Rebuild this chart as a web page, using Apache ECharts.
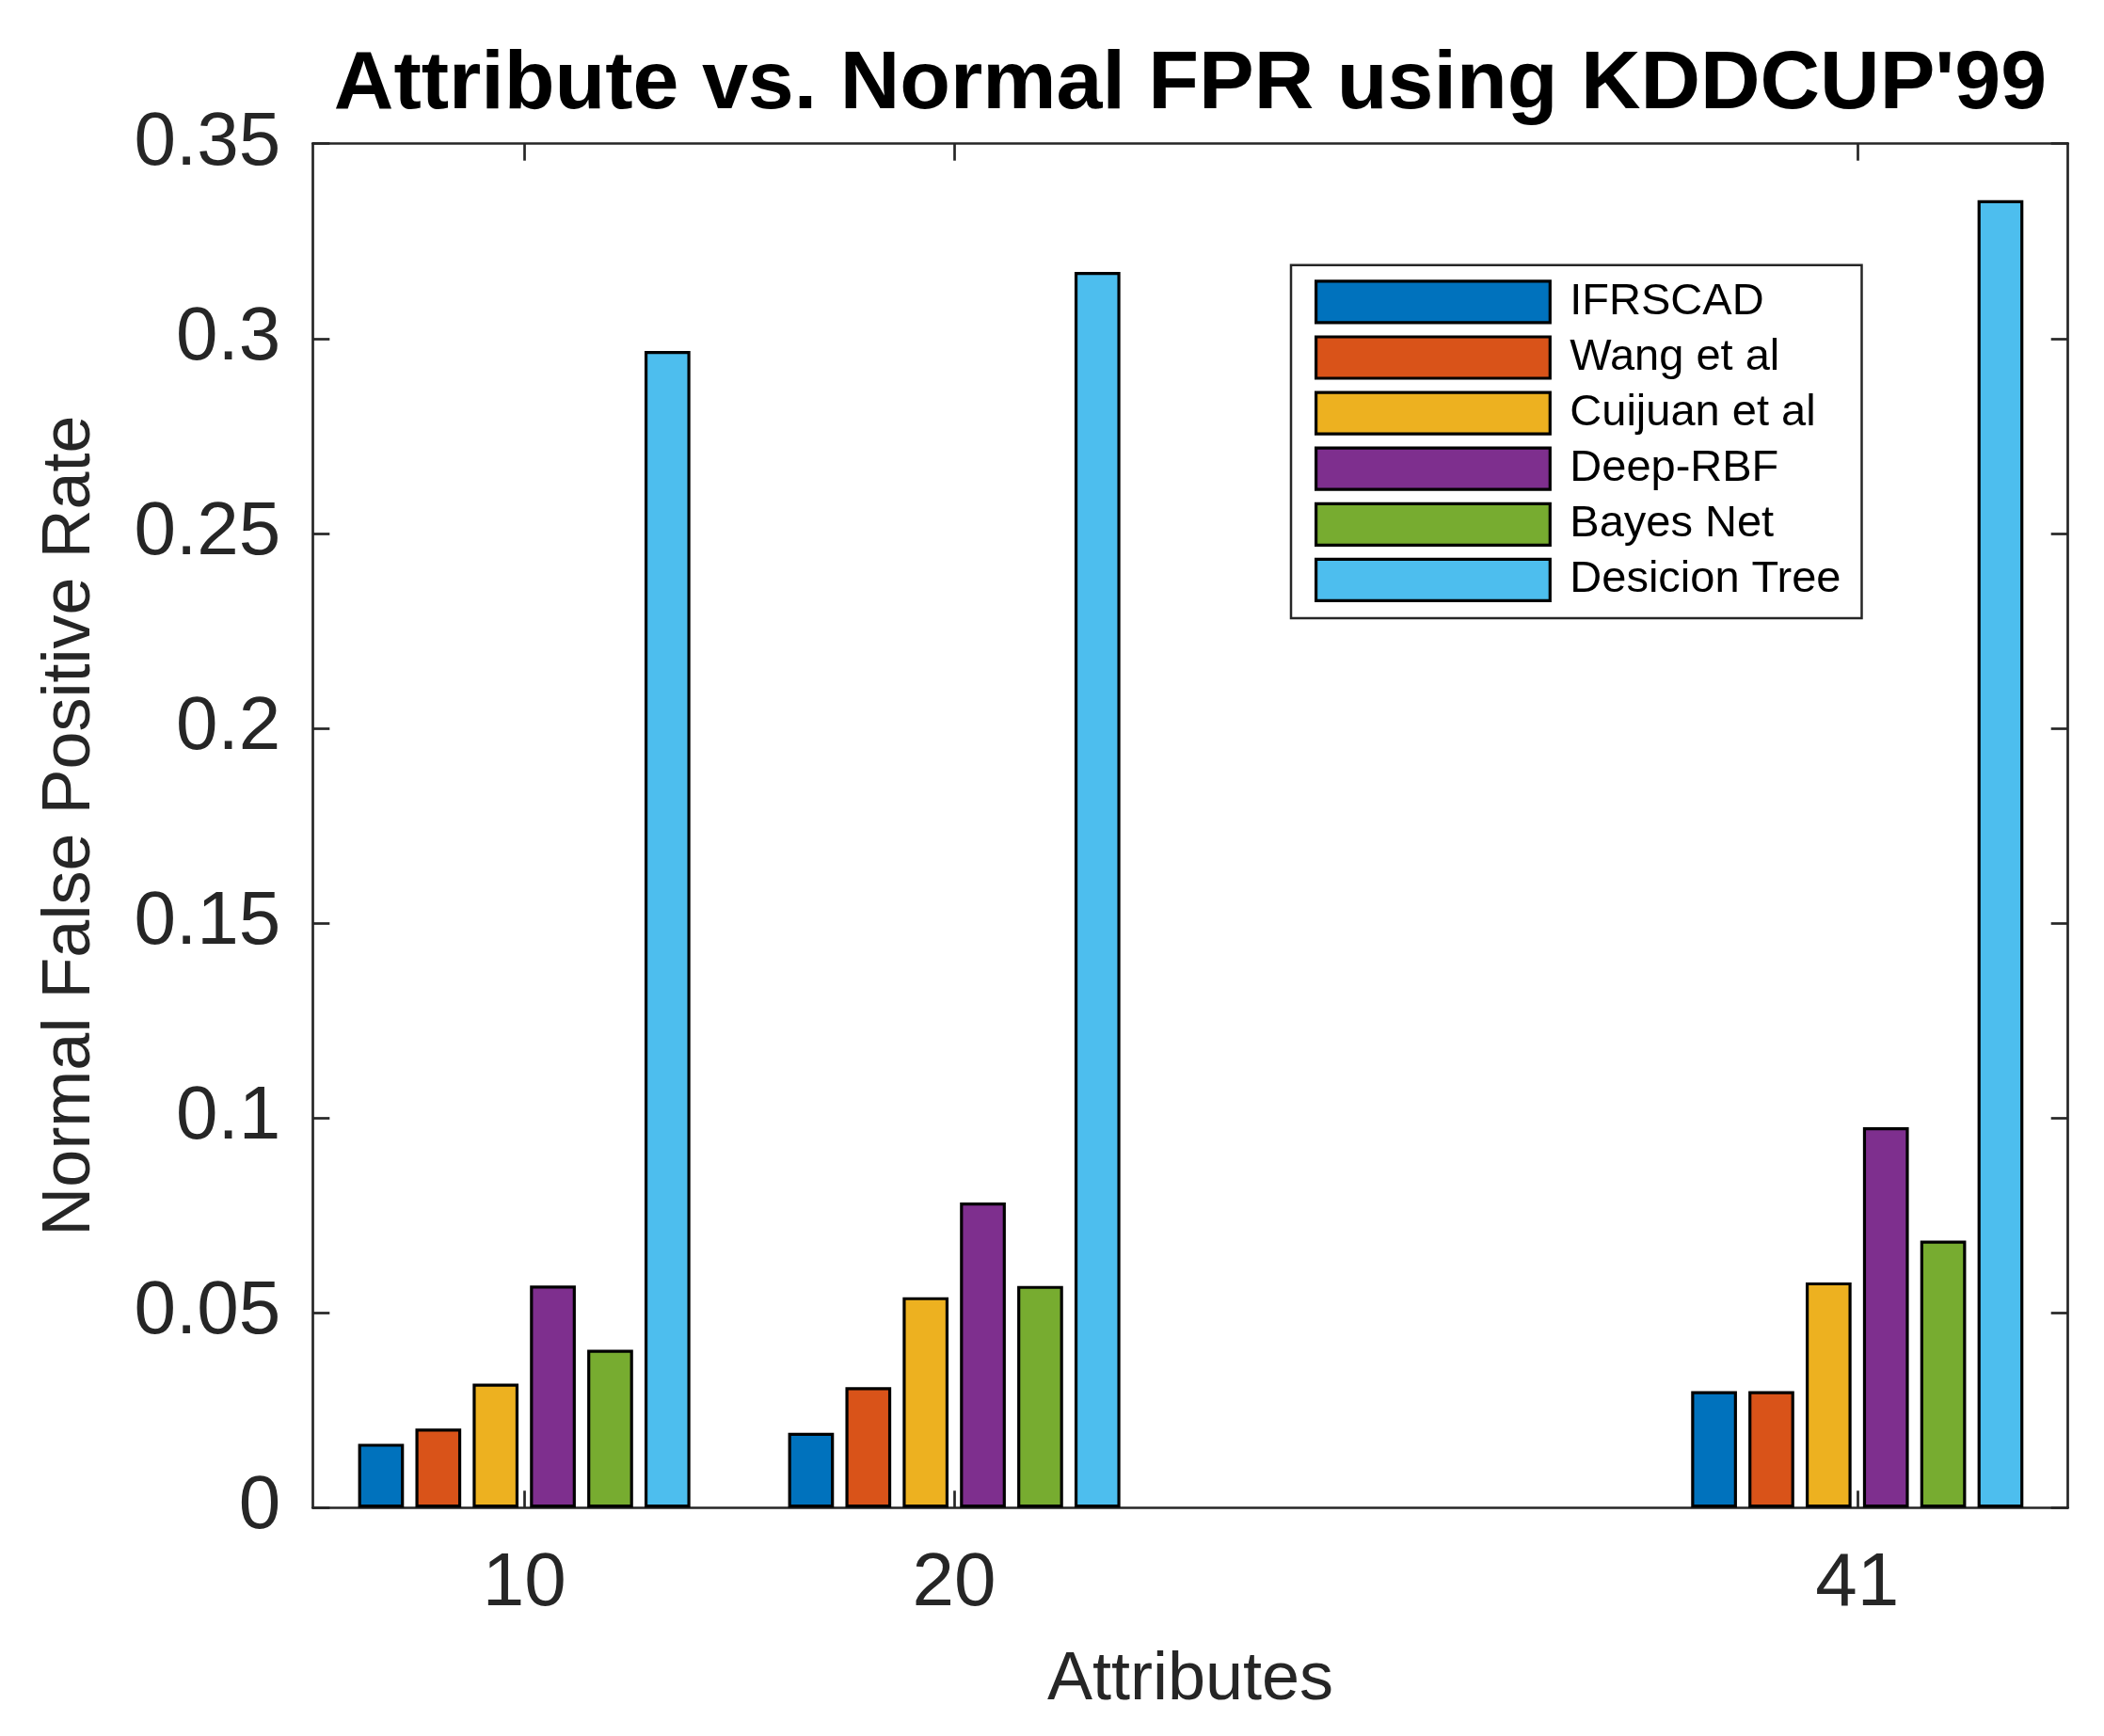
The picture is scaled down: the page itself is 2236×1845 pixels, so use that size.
<!DOCTYPE html>
<html>
<head>
<meta charset="utf-8">
<script src="https://cdn.jsdelivr.net/npm/echarts@6/dist/echarts.min.js"></script>
<style>
html,body{margin:0;padding:0;background:#ffffff;}
#chart{width:2236px;height:1845px;}
</style>
</head>
<body>
<div id="chart"></div>
<script>
// ---- data ----
const attributes = [10, 20, 41];
const seriesNames = ['IFRSCAD', 'Wang et al', 'Cuijuan et al', 'Deep-RBF', 'Bayes Net', 'Desicion Tree'];
const ifrscad = [0.0164, 0.0192, 0.0299];
const wangEtAl = [0.0203, 0.0309, 0.0299];
const cuijuanEtAl = [0.0318, 0.0540, 0.0578];
const deepRBF = [0.0570, 0.0783, 0.0976];
const bayesNet = [0.0405, 0.0569, 0.0685];
const desicionTree = [0.2968, 0.3171, 0.3355];
const seriesValues = [ifrscad, wangEtAl, cuijuanEtAl, deepRBF, bayesNet, desicionTree];
const xTickValues = [10, 20, 41];

// ---- style ----
const colors = ['#0072BD', '#D95319', '#EDB120', '#7E2F8E', '#77AC30', '#4DBEEE'];
const FONT = 'Liberation Sans';
const AX = '#262626';
const axisLine = { show: true, onZero: false, lineStyle: { color: AX, width: 2.7 } };
const tickStyle = { color: AX, width: 2.7 };

const chart = echarts.init(document.getElementById('chart'), null, { renderer: 'canvas' });

const series = seriesValues.map((vals, i) => ({
  name: seriesNames[i],
  type: 'bar',
  xAxisIndex: 0,
  yAxisIndex: 0,
  data: attributes.map((a, j) => [a, vals[j]]),
  barWidth: 48.7,
  barGap: '25%',
  itemStyle: { color: colors[i], borderColor: '#000000', borderWidth: 3.2 },
  emphasis: { disabled: true },
  z: 3
}));

chart.setOption({
  animation: false,
  backgroundColor: '#ffffff',
  title: {
    text: "Attribute vs. Normal FPR using KDDCUP'99",
    left: 1265,
    top: 47,
    padding: 0,
    textAlign: 'center',
    textStyle: { fontFamily: FONT, fontSize: 88, fontWeight: 'bold', color: '#000000', lineHeight: 88 }
  },
  legend: {
    orient: 'vertical',
    left: 1372,
    top: 281.7,
    padding: [15.6, 22, 17, 25],
    itemWidth: 248.7,
    itemHeight: 44,
    itemGap: 11.9,
    icon: 'rect',
    borderColor: AX,
    borderWidth: 2.5,
    backgroundColor: '#ffffff',
    selectedMode: false,
    itemStyle: { borderColor: '#000000', borderWidth: 3.2 },
    textStyle: { fontFamily: FONT, fontSize: 47, color: '#000000', lineHeight: 44, padding: [0, 0, 0, 16] },
    data: seriesNames
  },
  grid: {
    left: 332.3,
    right: 38.3,
    top: 152.7,
    bottom: 242.7,
    containLabel: false,
    outerBoundsMode: 'none'
  },
  xAxis: [
    {
      type: 'value',
      position: 'bottom',
      min: 5.08,
      max: 45.9,
      axisLine: axisLine,
      axisTick: { show: true, inside: true, length: 18, customValues: xTickValues, lineStyle: tickStyle },
      axisLabel: { show: true, customValues: xTickValues, margin: 42, fontFamily: FONT, fontSize: 80, lineHeight: 80, color: AX },
      splitLine: { show: false },
      name: 'Attributes',
      nameLocation: 'middle',
      nameGap: 148,
      nameTextStyle: { fontFamily: FONT, fontSize: 72, lineHeight: 72, color: AX }
    },
    {
      type: 'value',
      position: 'top',
      min: 5.08,
      max: 45.9,
      axisLine: axisLine,
      axisTick: { show: true, inside: true, length: 18, customValues: xTickValues, lineStyle: tickStyle },
      axisLabel: { show: false },
      splitLine: { show: false }
    }
  ],
  yAxis: [
    {
      type: 'value',
      position: 'left',
      min: 0,
      max: 0.35,
      interval: 0.05,
      axisLine: axisLine,
      axisTick: { show: true, inside: true, length: 18, lineStyle: tickStyle },
      axisLabel: { show: true, margin: 34, fontFamily: FONT, fontSize: 80, lineHeight: 80, color: AX },
      splitLine: { show: false },
      name: 'Normal False Positive Rate',
      nameLocation: 'middle',
      nameRotate: 90,
      nameGap: 221,
      nameTextStyle: { fontFamily: FONT, fontSize: 72, lineHeight: 72, color: AX }
    },
    {
      type: 'value',
      position: 'right',
      min: 0,
      max: 0.35,
      interval: 0.05,
      axisLine: axisLine,
      axisTick: { show: true, inside: true, length: 18, lineStyle: tickStyle },
      axisLabel: { show: false },
      splitLine: { show: false }
    }
  ],
  series: series
});
</script>
</body>
</html>
